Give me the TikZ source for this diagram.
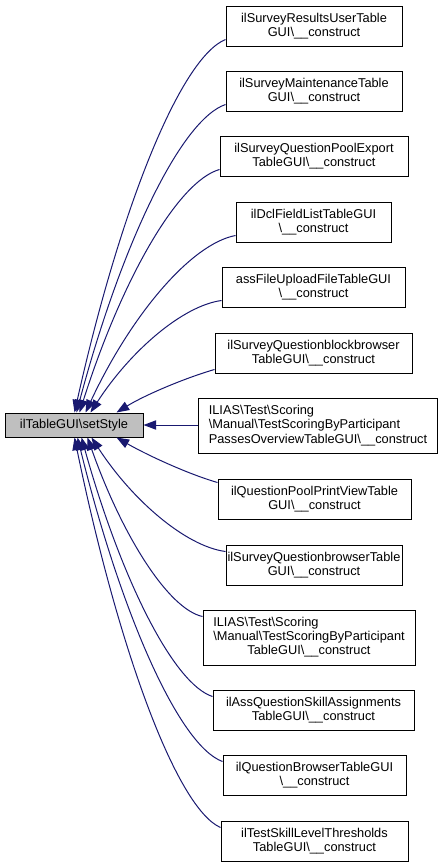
\documentclass[tikz,border=0pt]{standalone}
\usepackage{fontspec}
\setmainfont{Liberation Sans}
\usetikzlibrary{arrows.meta}
\definecolor{edgeblue}{HTML}{191970}
\definecolor{maingray}{HTML}{BFBFBF}
\newcommand{\myBS}{\textbackslash}
\newcommand{\myUS}{\_\_}
\begin{document}
\begin{tikzpicture}[x=0.75pt,y=-0.75pt,
  fnbox/.style={draw=black, line width=0.75pt, inner sep=0pt, font=\fontsize{9.6}{10.6}\selectfont, align=center},
  sz/.style 2 args={minimum width=#1*0.75pt, minimum height=#2*0.75pt},
  conn/.style={draw=edgeblue, line width=0.75pt, -{Triangle[length=9.5pt,width=7pt]}, edgeblue}]
\useasboundingbox (0,0) rectangle (444,868);

\node[fnbox, fill=maingray, sz={138}{24}] (main) at (74,425) {ilTableGUI\myBS setStyle};

\node[fnbox, sz={176}{40}] (b1) at (314,26) {ilSurveyResultsUserTable\\GUI\myBS\myUS construct};
\node[fnbox, sz={176}{40}] (b2) at (314,91) {ilSurveyMaintenanceTable\\GUI\myBS\myUS construct};
\node[fnbox, sz={188}{40}] (b3) at (314,156) {ilSurveyQuestionPoolExport\\TableGUI\myBS\myUS construct};
\node[fnbox, sz={155}{40}] (b4) at (313.5,222) {ilDclFieldListTableGUI\\\myBS\myUS construct};
\node[fnbox, sz={183}{40}] (b5) at (313.5,287) {assFileUploadFileTableGUI\\\myBS\myUS construct};
\node[fnbox, sz={197}{40}] (b6) at (313.5,353) {ilSurveyQuestionblockbrowser\\TableGUI\myBS\myUS construct};
\node[fnbox, sz={239}{55}, align=left] (b7) at (318,425.5) {ILIAS\myBS Test\myBS Scoring\\\myBS Manual\myBS TestScoringByParticipant\\PassesOverviewTableGUI\myBS\myUS construct};
\node[fnbox, sz={193}{40}] (b8) at (314.5,499) {ilQuestionPoolPrintViewTable\\GUI\myBS\myUS construct};
\node[fnbox, sz={176}{40}] (b9) at (314,565) {ilSurveyQuestionbrowserTable\\GUI\myBS\myUS construct};
\node[fnbox, sz={212}{55}] (b10) at (309,637.5) {\begin{tabular}{@{}l@{}}ILIAS\myBS Test\myBS Scoring\\\myBS Manual\myBS TestScoringByParticipant\\\multicolumn{1}{@{}c@{}}{TableGUI\myBS\myUS construct}\end{tabular}};
\node[fnbox, sz={201}{40}] (b11) at (313.5,710) {ilAssQuestionSkillAssignments\\TableGUI\myBS\myUS construct};
\node[fnbox, sz={183}{40}] (b12) at (314.5,775) {ilQuestionBrowserTableGUI\\\myBS\myUS construct};
\node[fnbox, sz={187}{40}] (b13) at (314.5,841) {ilTestSkillLevelThresholds\\TableGUI\myBS\myUS construct};

% upper edges
\draw[conn] ([yshift=5.25pt]b1.south west) .. controls (180.7,57.7) and (120.3,207.3) .. ([xshift=52.5pt]main.north west);
\draw[conn] ([yshift=5.25pt]b2.south west) .. controls (181.3,119.5) and (121.7,243) .. ([xshift=54pt]main.north west);
\draw[conn] ([yshift=5.25pt]b3.south west) .. controls (178,181.2) and (122,278.8) .. ([xshift=56.25pt]main.north west);
\draw[conn] ([yshift=5.25pt]b4.south west) .. controls (191,243.9) and (131,315.1) .. ([xshift=60.75pt]main.north west);
\draw[conn] ([yshift=5.25pt]b5.south west) .. controls (182.7,305.7) and (130.3,350.9) .. ([xshift=64.5pt]main.north west);
\draw[conn] ([yshift=3pt]b6.south west) .. controls (185,378) and (145,395) .. ([xshift=84pt]main.north west);
% straight edge
\draw[conn] (b7.west |- main.east) -- (main.east);
% lower edges
\draw[conn] ([yshift=-3pt]b8.north west) .. controls (188,474) and (147,455) .. ([xshift=84pt]main.south west);
\draw[conn] ([yshift=-5.25pt]b9.north west) .. controls (185.8,546.3) and (132.2,500.3) .. ([xshift=65.25pt]main.south west);
\draw[conn] ([yshift=-5.25pt]b10.north west) .. controls (168.5,609) and (122.5,536.5) .. ([xshift=62.25pt]main.south west);
\draw[conn] ([yshift=-5.25pt]b11.north west) .. controls (173.7,684) and (121.3,580) .. ([xshift=57.75pt]main.south west);
\draw[conn] ([yshift=-5.25pt]b12.north west) .. controls (179.5,745.8) and (121.5,615.8) .. ([xshift=54.75pt]main.south west);
\draw[conn] ([yshift=-5.25pt]b13.north west) .. controls (177.2,808.5) and (118.8,652.1) .. ([xshift=52.5pt]main.south west);
\end{tikzpicture}
\end{document}
